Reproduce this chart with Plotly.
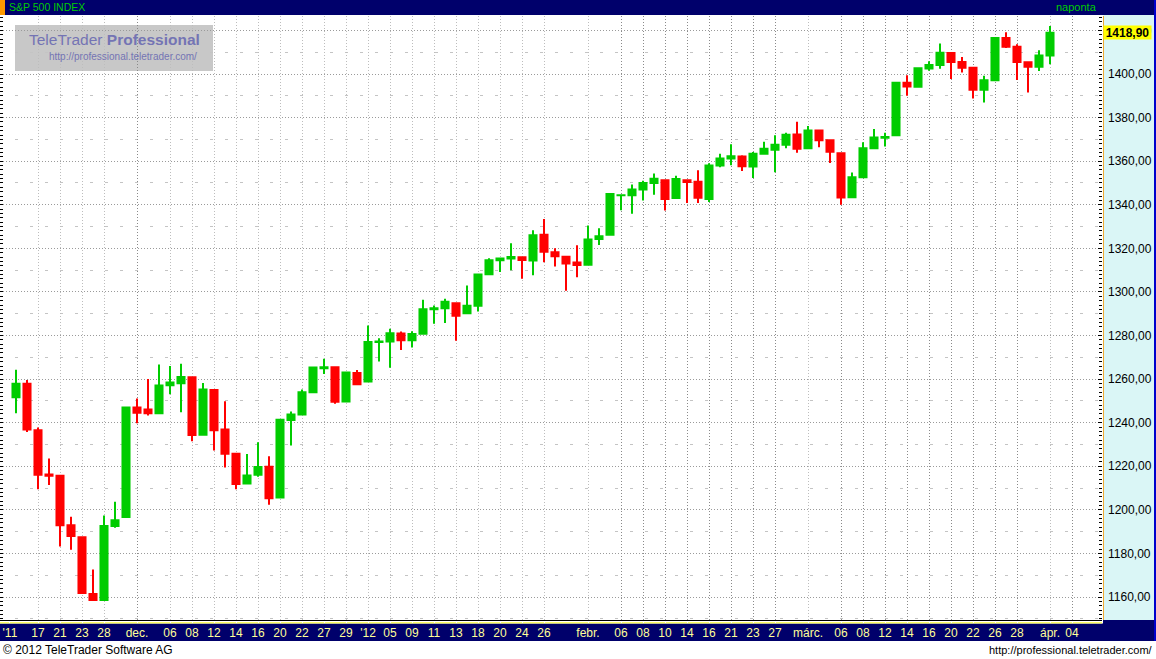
import plotly.graph_objects as go

# ---------------- data (S&P 500 INDEX, daily) ----------------
dates = [
    "2011-11-15", "2011-11-16", "2011-11-17", "2011-11-18", "2011-11-21", "2011-11-22", "2011-11-23",
    "2011-11-25", "2011-11-28", "2011-11-29", "2011-11-30",
    "2011-12-01", "2011-12-02", "2011-12-05", "2011-12-06", "2011-12-07", "2011-12-08", "2011-12-09",
    "2011-12-12", "2011-12-13", "2011-12-14", "2011-12-15", "2011-12-16", "2011-12-19", "2011-12-20",
    "2011-12-21", "2011-12-22", "2011-12-23", "2011-12-27", "2011-12-28", "2011-12-29", "2011-12-30",
    "2012-01-03", "2012-01-04", "2012-01-05", "2012-01-06", "2012-01-09", "2012-01-10", "2012-01-11",
    "2012-01-12", "2012-01-13", "2012-01-17", "2012-01-18", "2012-01-19", "2012-01-20", "2012-01-23",
    "2012-01-24", "2012-01-25", "2012-01-26", "2012-01-27", "2012-01-30", "2012-01-31",
    "2012-02-01", "2012-02-02", "2012-02-03", "2012-02-06", "2012-02-07", "2012-02-08", "2012-02-09",
    "2012-02-10", "2012-02-13", "2012-02-14", "2012-02-15", "2012-02-16", "2012-02-17", "2012-02-21",
    "2012-02-22", "2012-02-23", "2012-02-24", "2012-02-27", "2012-02-28", "2012-02-29",
    "2012-03-01", "2012-03-02", "2012-03-05", "2012-03-06", "2012-03-07", "2012-03-08", "2012-03-09",
    "2012-03-12", "2012-03-13", "2012-03-14", "2012-03-15", "2012-03-16", "2012-03-19", "2012-03-20",
    "2012-03-21", "2012-03-22", "2012-03-23", "2012-03-26", "2012-03-27", "2012-03-28", "2012-03-29",
    "2012-03-30", "2012-04-02",
]
opens = [
    1251.70, 1257.81, 1236.56, 1216.19, 1215.62, 1192.98, 1187.48, 1161.41, 1158.67, 1192.56, 1196.72,
    1246.91, 1246.03, 1244.33, 1257.19, 1258.14, 1260.87, 1234.48, 1255.05, 1236.83, 1225.73, 1212.12,
    1216.09, 1219.74, 1205.72, 1241.25, 1243.72, 1254.00, 1265.02, 1265.38, 1249.75, 1262.82,
    1258.86, 1277.03, 1277.30, 1280.93, 1277.83, 1280.77, 1292.02, 1292.48, 1294.82, 1290.22, 1293.65,
    1308.07, 1314.49, 1315.29, 1315.96, 1314.40, 1326.28, 1318.25, 1316.16, 1313.53,
    1312.45, 1324.24, 1326.21, 1344.32, 1344.33, 1347.04, 1349.97, 1351.21, 1343.06, 1351.30, 1350.52,
    1342.61, 1358.06, 1361.22, 1362.11, 1357.53, 1363.46, 1365.20, 1367.56, 1372.20,
    1365.90, 1374.09, 1369.59, 1363.63, 1343.39, 1352.65, 1365.97, 1370.78, 1371.92, 1395.95, 1394.17,
    1402.55, 1404.17, 1409.59, 1405.52, 1402.89, 1392.78, 1397.11, 1416.55, 1412.52, 1405.39, 1403.31,
    1408.47,
]
highs = [
    1264.25, 1259.61, 1237.73, 1223.51, 1215.62, 1196.81, 1187.48, 1172.66, 1197.35, 1203.67, 1247.11,
    1251.09, 1260.08, 1266.73, 1266.03, 1267.06, 1260.87, 1258.25, 1255.05, 1249.86, 1225.73, 1225.60,
    1231.04, 1224.57, 1241.59, 1245.09, 1255.22, 1265.42, 1269.37, 1265.85, 1263.54, 1264.12,
    1284.62, 1278.73, 1283.05, 1281.84, 1281.99, 1296.46, 1293.80, 1296.82, 1294.82, 1303.00, 1308.11,
    1315.49, 1315.38, 1322.28, 1315.96, 1328.30, 1333.47, 1320.06, 1316.16, 1321.41,
    1330.52, 1329.19, 1345.34, 1344.36, 1349.24, 1351.00, 1354.32, 1351.21, 1353.35, 1351.30, 1355.87,
    1359.02, 1363.40, 1367.76, 1362.70, 1364.24, 1368.92, 1371.94, 1373.09, 1378.04,
    1376.17, 1374.53, 1369.59, 1363.63, 1354.85, 1368.72, 1374.76, 1373.04, 1396.13, 1399.42, 1402.63,
    1405.88, 1414.00, 1409.59, 1407.75, 1402.89, 1399.18, 1416.58, 1419.15, 1413.65, 1405.39, 1410.89,
    1422.00,
]
lows = [
    1244.34, 1235.67, 1209.43, 1211.36, 1183.16, 1181.65, 1161.79, 1158.66, 1158.67, 1191.80, 1196.72,
    1239.73, 1243.35, 1244.33, 1253.03, 1244.80, 1231.47, 1234.48, 1227.25, 1219.43, 1209.47, 1212.12,
    1215.20, 1202.37, 1205.72, 1229.51, 1243.72, 1254.00, 1262.30, 1248.64, 1249.75, 1257.46,
    1258.86, 1268.10, 1265.26, 1273.34, 1274.55, 1280.77, 1285.41, 1285.77, 1277.58, 1290.22, 1290.99,
    1308.07, 1309.17, 1309.89, 1306.06, 1307.65, 1313.60, 1311.72, 1300.49, 1306.69,
    1312.45, 1321.57, 1326.21, 1337.52, 1335.92, 1341.95, 1344.63, 1337.35, 1343.06, 1340.83, 1340.80,
    1341.22, 1357.24, 1358.11, 1355.53, 1352.28, 1363.46, 1354.92, 1365.97, 1363.81,
    1365.90, 1366.42, 1359.13, 1340.03, 1343.39, 1352.65, 1365.97, 1366.69, 1371.92, 1389.97, 1394.17,
    1401.47, 1402.43, 1397.68, 1400.64, 1388.73, 1386.87, 1397.11, 1411.95, 1397.20, 1391.56, 1401.42,
    1404.46,
]
closes = [
    1257.81, 1236.91, 1216.13, 1215.65, 1192.98, 1188.04, 1161.79, 1158.67, 1192.55, 1195.19, 1246.96,
    1244.58, 1244.28, 1257.08, 1258.47, 1261.01, 1234.35, 1255.19, 1236.47, 1225.73, 1211.82, 1215.75,
    1219.66, 1205.35, 1241.30, 1243.72, 1254.00, 1265.33, 1265.43, 1249.64, 1263.02, 1257.60,
    1277.06, 1277.30, 1281.06, 1277.81, 1280.70, 1292.08, 1292.48, 1295.50, 1289.09, 1293.67, 1308.04,
    1314.50, 1315.38, 1316.00, 1314.65, 1326.06, 1318.43, 1316.33, 1313.01, 1312.41,
    1324.09, 1325.54, 1344.90, 1344.33, 1347.05, 1349.96, 1351.95, 1342.64, 1351.77, 1350.50, 1343.23,
    1358.04, 1361.23, 1362.21, 1357.66, 1363.46, 1365.74, 1367.59, 1372.18, 1365.68,
    1374.09, 1369.63, 1364.33, 1343.36, 1352.63, 1365.91, 1370.87, 1371.09, 1395.95, 1394.28, 1402.60,
    1404.17, 1409.75, 1405.52, 1402.89, 1392.78, 1397.11, 1416.51, 1412.52, 1405.54, 1403.28, 1408.47,
    1418.90,
]

# x-axis labels (trading-day index -> label)
tick_idx = [-0.55, 2, 4, 6, 8, 11, 14, 16, 18, 20, 22, 24, 26, 28, 30, 32, 34, 36, 38, 40, 42, 44, 46, 48,
            52, 55, 57, 59, 61, 63, 65, 67, 69, 72, 75, 77, 79, 81, 83, 85, 87, 89, 91, 94, 96]
tick_txt = ["'11", "17", "21", "23", "28", "dec.", "06", "08", "12", "14", "16", "20", "22", "27", "29",
            "'12", "05", "09", "11", "13", "18", "20", "24", "26", "febr.", "06", "08", "10", "14", "16",
            "21", "23", "27", "márc.", "06", "08", "12", "14", "16", "20", "22", "26", "28", "ápr.", "04"]
grid_light = [2, 4, 6, 8, 14, 16, 18, 20, 22, 24, 26, 28, 30, 32, 34, 36, 38, 40, 42, 44, 46, 48, 52, 72, 94]
grid_dark = [11, 55, 57, 59, 61, 63, 65, 67, 69, 75, 77, 79, 81, 83, 85, 87, 89, 91, 96]

title_text = "S&P 500 INDEX"
period_text = "naponta"

# ---------------- geometry ----------------
W, H = 1156, 659
PL, PR, PT, PB = 0, 1102, 16, 620  # plot area in pixels

def px(xp):
    return (xp - PL) / (PR - PL)

def py(yp):
    return (PB - yp) / (PB - PT)

x = list(range(len(closes)))
x_range = [-16 / 11, (PR - 16) / 11]
y_range = [1149.45, 1426.62]

NAVY = "#00006b"
FONT = "Liberation Sans, Arial, sans-serif"

fig = go.Figure()
fig.add_trace(go.Candlestick(
    x=x, open=opens, high=highs, low=lows, close=closes,
    increasing=dict(line=dict(color="#00cc00", width=2), fillcolor="#00cc00"),
    decreasing=dict(line=dict(color="#ff0000", width=2), fillcolor="#ff0000"),
    whiskerwidth=0, showlegend=False, hoverinfo="skip",
))
# helper traces so the overlay axes exist
fig.add_trace(go.Scatter(x=[], y=[], xaxis="x2", yaxis="y", showlegend=False, hoverinfo="skip"))
fig.add_trace(go.Scatter(x=[], y=[], xaxis="x3", yaxis="y", showlegend=False, hoverinfo="skip"))
fig.add_trace(go.Scatter(x=[], y=[], xaxis="x", yaxis="y2", showlegend=False, hoverinfo="skip"))

shapes = [
    # header bar
    dict(type="rect", xref="paper", yref="paper", x0=px(0), x1=px(W), y0=py(15), y1=py(0),
         fillcolor=NAVY, line_width=0, layer="below"),
    dict(type="rect", xref="paper", yref="paper", x0=px(0), x1=px(5), y0=py(15), y1=py(0),
         fillcolor="#ff9900", line_width=0, layer="below"),
    # right value panel
    dict(type="rect", xref="paper", yref="paper", x0=px(1103), x1=px(1154), y0=py(620), y1=py(15),
         fillcolor="#daf6f6", line_width=0, layer="below"),
    dict(type="line", xref="paper", yref="paper", x0=px(1103.5), x1=px(1103.5), y0=py(620), y1=py(16),
         line=dict(color="#f0a830", width=1), layer="below"),
    # bottom bar
    dict(type="rect", xref="paper", yref="paper", x0=px(0), x1=px(1154), y0=py(641), y1=py(623.5),
         fillcolor=NAVY, line_width=0, layer="below"),
    dict(type="rect", xref="paper", yref="paper", x0=px(1103), x1=px(1154), y0=py(641), y1=py(620),
         fillcolor=NAVY, line_width=0, layer="below"),
    dict(type="line", xref="paper", yref="paper", x0=px(0), x1=px(1102), y0=py(622.8), y1=py(622.8),
         line=dict(color="#ffff66", width=1.5), layer="below"),
    # right blue border
    dict(type="rect", xref="paper", yref="paper", x0=px(1154), x1=px(1156), y0=py(641), y1=py(0),
         fillcolor="#0000cc", line_width=0, layer="below"),
    # logo box
    dict(type="rect", xref="paper", yref="paper", x0=px(15), x1=px(213), y0=py(71), y1=py(25),
         fillcolor="#c8c8c8", line_width=0, layer="between"),
]

annotations = [
    dict(text=title_text, xref="paper", yref="paper", x=px(7), y=py(7.5), xanchor="left", yanchor="middle",
         showarrow=False, font=dict(family=FONT, size=10.5, color="#00cc00")),
    dict(text=period_text, xref="paper", yref="paper", x=px(1099), y=py(7.5), xanchor="right",
         yanchor="middle", showarrow=False, font=dict(family=FONT, size=11, color="#00cc00")),
    dict(text="TeleTrader <b>Professional</b>", xref="paper", yref="paper", x=px(27), y=py(40),
         xanchor="left", yanchor="middle", showarrow=False, font=dict(family=FONT, size=15.5, color="#7474b4")),
    dict(text="http://professional.teletrader.com/", xref="paper", yref="paper", x=px(47), y=py(56),
         xanchor="left", yanchor="middle", showarrow=False, font=dict(family=FONT, size=10, color="#7474b4")),
    dict(text="© 2012 TeleTrader Software AG", xref="paper", yref="paper", x=px(1), y=py(650),
         xanchor="left", yanchor="middle", showarrow=False, font=dict(family=FONT, size=12, color="#000000")),
    dict(text="http://professional.teletrader.com/", xref="paper", yref="paper", x=px(1155), y=py(650),
         xanchor="right", yanchor="middle", showarrow=False, font=dict(family=FONT, size=11, color="#000000")),
    # last price marker
    dict(text="<b>" + f"{closes[-1]:.2f}".replace(".", ",") + "</b>", xref="paper", yref="y",
         x=px(1103), y=closes[-1], xanchor="left", yanchor="middle", showarrow=False,
         bgcolor="#ffff00", width=47, height=13, borderpad=0, align="center",
         font=dict(family=FONT, size=12, color="#000000")),
]

fig.update_layout(
    width=W, height=H,
    margin=dict(l=PL, r=W - PR, t=PT, b=H - PB, pad=0),
    paper_bgcolor="#ffffff", plot_bgcolor="#ffffff",
    separators=", ",
    boxgap=0.36, boxgroupgap=0,
    hovermode=False,
    showlegend=False,
    shapes=shapes,
    annotations=annotations,
    xaxis=dict(
        range=x_range, rangeslider=dict(visible=False), tickmode="array", tickvals=tick_idx,
        ticktext=tick_txt, showgrid=False, zeroline=False, ticks="outside", ticklen=2,
        tickcolor="#ffffff", tickwidth=1, showline=True, linecolor="#000000", linewidth=1,
        tickfont=dict(family=FONT, size=12, color="#ffff99"), ticklabelstandoff=0,
    ),
    xaxis2=dict(
        range=x_range, overlaying="x", anchor="y", tickmode="array", tickvals=grid_light,
        showticklabels=False, ticks="", showgrid=True, gridcolor="#bdbdbd", griddash="1px,2px",
        gridwidth=1, zeroline=False,
    ),
    xaxis3=dict(
        range=x_range, overlaying="x", anchor="y", tickmode="array", tickvals=grid_dark,
        showticklabels=False, ticks="", showgrid=True, gridcolor="#8a8a8a", griddash="1px,2px",
        gridwidth=1, zeroline=False,
    ),
    yaxis=dict(
        range=y_range, side="right", tick0=0, dtick=20, tickformat=".2f",
        showgrid=True, gridcolor="#9a9a9a", griddash="1px,2px", gridwidth=1, zeroline=False,
        ticks="inside", ticklen=4, tickcolor="#000000", tickwidth=1,
        minor=dict(dtick=2, ticks="inside", ticklen=3, tickcolor="#000000", showgrid=False),
        tickfont=dict(family=FONT, size=12, color="#000000"), ticklabelstandoff=5,
        showline=False,
    ),
    yaxis2=dict(
        range=y_range, overlaying="y", side="left", anchor="x", tick0=10, dtick=20,
        showticklabels=False, showgrid=True, gridcolor="#c4c4c4", griddash="3px,12px", gridwidth=1,
        zeroline=False, ticks="inside", ticklen=3, tickcolor="#000000",
        minor=dict(dtick=2, ticks="inside", ticklen=3, tickcolor="#000000", showgrid=False),
    ),
)

fig.write_html(
    "out.html",
    config={"displayModeBar": False, "staticPlot": True},
    post_script="document.body.style.margin='0';document.body.style.padding='0';"
                "document.body.style.overflow='hidden';",
)
